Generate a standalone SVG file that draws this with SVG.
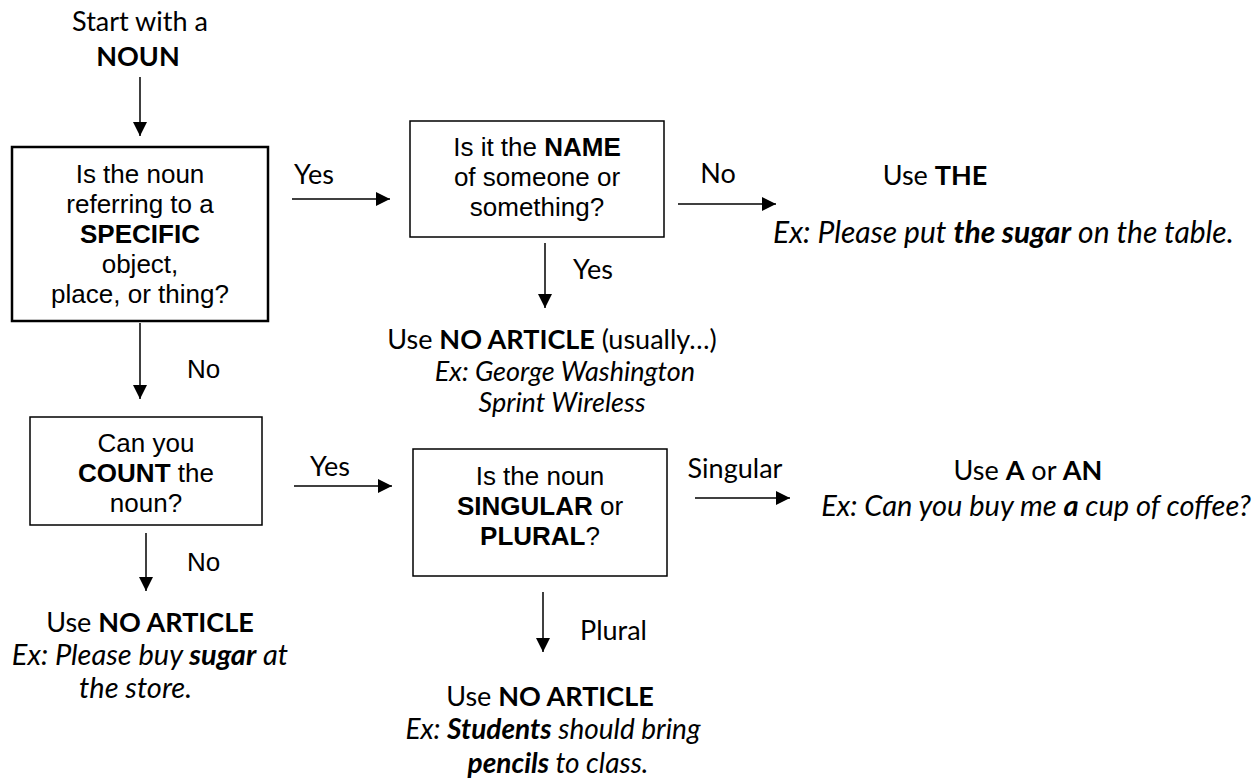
<svg xmlns="http://www.w3.org/2000/svg" width="1257" height="783" viewBox="0 0 1257 783">
<defs>
<marker id="ah" markerWidth="15" markerHeight="15" refX="14" refY="7" orient="auto" markerUnits="userSpaceOnUse">
<path d="M0,0 L14,7 L0,14 Z" fill="#000"/>
</marker>
<style>
.box{fill:#fff;stroke:#000;stroke-width:1.5}
.thick{stroke-width:2.5}
.a{font-family:"Liberation Sans",Arial,sans-serif;font-size:26px;fill:#000;text-anchor:middle}
.c{font-family:Lato,"Liberation Sans",sans-serif;font-size:27px;fill:#000;text-anchor:middle}
.l{text-anchor:start}
.i{font-style:italic;font-size:29px}
.b{font-weight:bold}
.con line{stroke:#000;stroke-width:1.5;marker-end:url(#ah)}
</style>
</defs>
<rect width="1257" height="783" fill="#fff"/>

<g id="start">
<text class="c" x="140" y="31">Start with a</text>
<text class="c b" x="138" y="66">NOUN</text>
</g>

<g id="q-specific">
<rect class="box thick" x="12" y="147" width="256" height="174"/>
<text class="a" x="140" y="183">Is the noun</text>
<text class="a" x="140" y="213">referring to a</text>
<text class="a b" x="140" y="243">SPECIFIC</text>
<text class="a" x="140" y="273">object,</text>
<text class="a" x="140" y="303">place, or thing?</text>
</g>

<g id="q-name">
<rect class="box" x="410" y="121" width="254" height="116"/>
<text class="a" x="537" y="156">Is it the <tspan class="b">NAME</tspan></text>
<text class="a" x="537" y="186">of someone or</text>
<text class="a" x="537" y="216">something?</text>
</g>

<g id="use-the">
<text class="c" x="935" y="185">Use <tspan class="b">THE</tspan></text>
<text class="c i l" x="773" y="243" style="font-size:30px">Ex: Please put <tspan class="b">the sugar</tspan> on the table.</text>
</g>

<g id="use-no-article-name">
<text class="c" x="552" y="349">Use <tspan class="b">NO ARTICLE</tspan> (usually…)</text>
<text class="c i" x="565" y="381" style="font-size:27px">Ex: George Washington</text>
<text class="c i" x="562" y="412" style="font-size:27px">Sprint Wireless</text>
</g>

<g id="q-count">
<rect class="box" x="30" y="417" width="232" height="108"/>
<text class="a" x="146" y="452">Can you</text>
<text class="a" x="146" y="482"><tspan class="b">COUNT</tspan> the</text>
<text class="a" x="146" y="512">noun?</text>
</g>

<g id="q-singular">
<rect class="box" x="413" y="449" width="254" height="127"/>
<text class="a" x="540" y="485">Is the noun</text>
<text class="a" x="540" y="515"><tspan class="b">SINGULAR</tspan> or</text>
<text class="a" x="540" y="545"><tspan class="b">PLURAL</tspan>?</text>
</g>

<g id="use-a-an">
<text class="c" x="1028" y="480">Use <tspan class="b">A</tspan> or <tspan class="b">AN</tspan></text>
<text class="c i" x="1036" y="516">Ex: Can you buy me <tspan class="b">a</tspan> cup of coffee?</text>
</g>

<g id="use-no-article-uncount">
<text class="c" x="150" y="632">Use <tspan class="b">NO ARTICLE</tspan></text>
<text class="c i" x="150" y="665">Ex: Please buy <tspan class="b">sugar</tspan> at</text>
<text class="c i l" x="79" y="698">the store.</text>
</g>

<g id="use-no-article-plural">
<text class="c" x="550" y="706">Use <tspan class="b">NO ARTICLE</tspan></text>
<text class="c i" x="553" y="739" style="font-size:28px">Ex: <tspan class="b">Students</tspan> should bring</text>
<text class="c i" x="558" y="773" style="font-size:28px"><tspan class="b">pencils</tspan> to class.</text>
</g>

<g id="connectors" class="con">
<line x1="140" y1="77" x2="140" y2="136"/>
<line x1="292" y1="199" x2="390" y2="199"/>
<line x1="678" y1="204" x2="776" y2="204"/>
<line x1="545" y1="243" x2="545" y2="308"/>
<line x1="140" y1="323" x2="140" y2="399"/>
<line x1="294" y1="486" x2="392" y2="486"/>
<line x1="695" y1="498" x2="790" y2="498"/>
<line x1="146" y1="533" x2="146" y2="591"/>
<line x1="543" y1="592" x2="543" y2="652"/>
</g>

<g id="labels">
<text class="c" x="314" y="184">Yes</text>
<text class="c" x="718" y="183">No</text>
<text class="c l" x="573" y="279">Yes</text>
<text class="a l" x="187" y="378">No</text>
<text class="c" x="330" y="476">Yes</text>
<text class="c" x="735" y="478">Singular</text>
<text class="a l" x="187" y="571">No</text>
<text class="c l" x="580" y="640">Plural</text>
</g>
</svg>
